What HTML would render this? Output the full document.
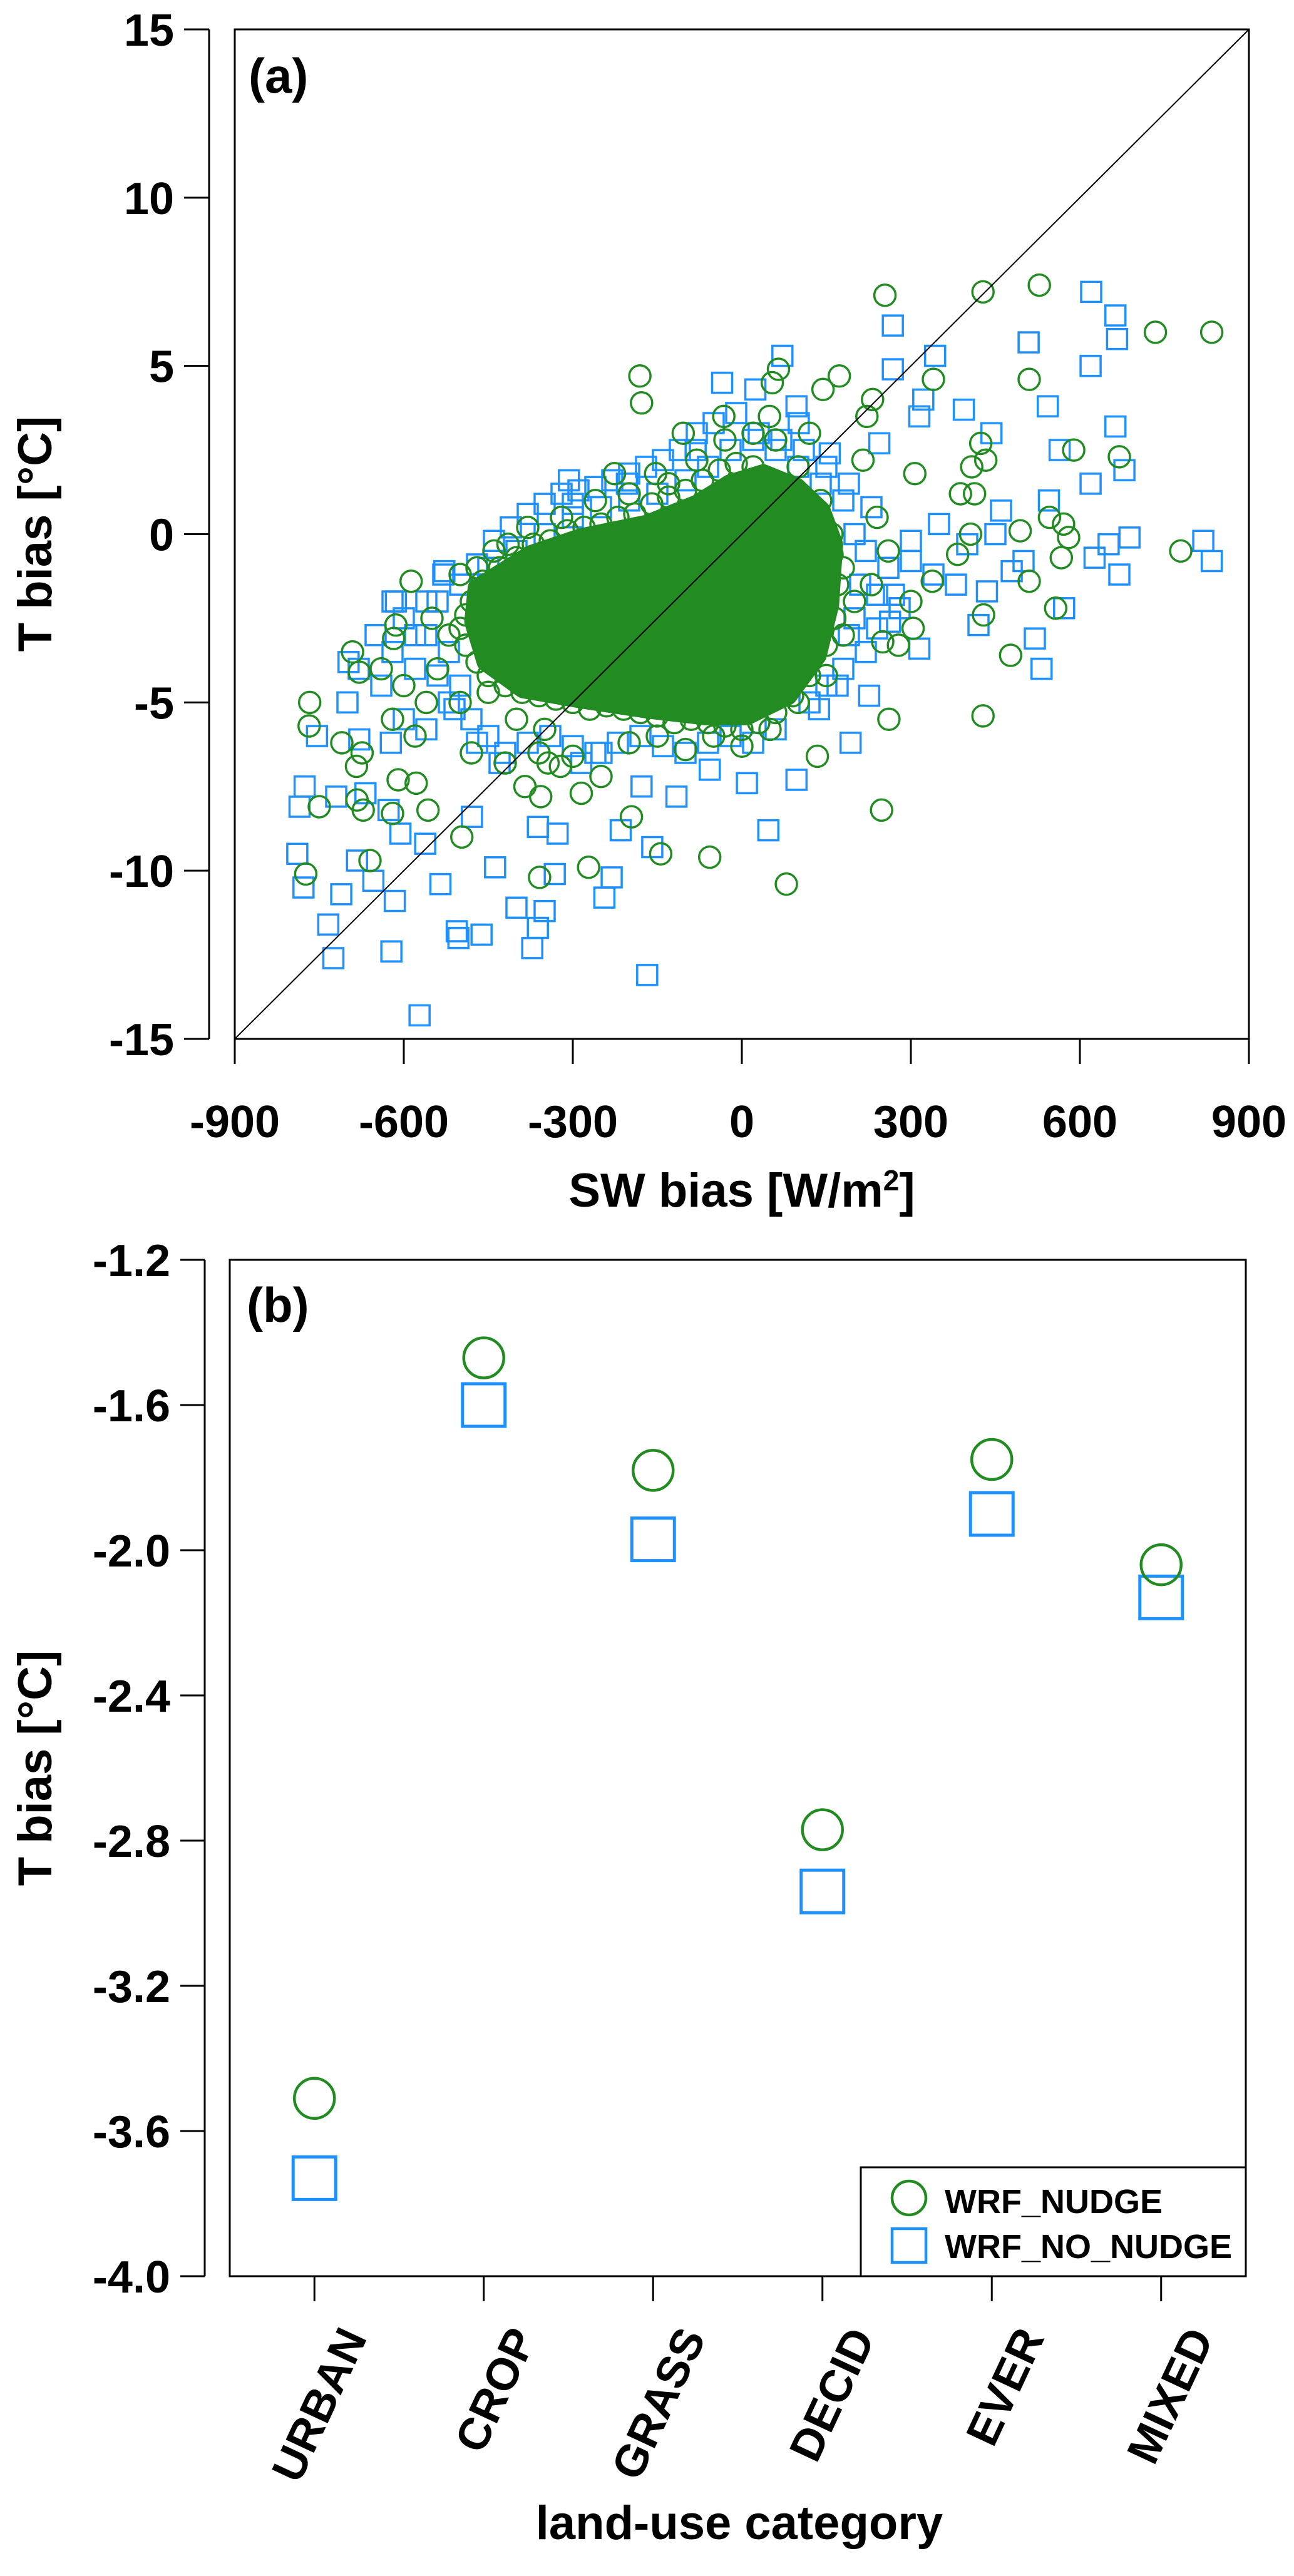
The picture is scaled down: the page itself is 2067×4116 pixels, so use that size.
<!DOCTYPE html>
<html><head><meta charset="utf-8"><style>
html,body{margin:0;padding:0;background:#fff;}
svg{display:block;font-family:"Liberation Sans",Arial,sans-serif;font-weight:bold;}
</style></head><body>
<svg id="fig" width="2067" height="4116" viewBox="0 0 2067 4116">
<g id="pa"></g>
<g id="pb"></g>
</svg>
<script>
// ---------- Panel (a) data ----------
const nudgeSW = [528,428,254,734,834,510,340,173,144,232,222,65,54,49,-32,-181,-178,-104,424,408,433,589,670,307,215,388,413,494,406,546,571,580,567,510,557,779,477,429,304,278,338,383,428,261,248,134,79,-57,-144,-272,-359,-196,-285,-357,-385,-497,-557,-620,-672,-683,-750,-774,-660,-610,-578,-684,-710,-674,-768,-767,-691,-679,-614,-618,-587,-470,-415,-226,-153,-344,-322,
 -550,-520,-540,-500,-560,-600,-640,-620,-580,-480,-420,-360,-300,-250,-200,-150,-100,-50,0,50,100,150,180,200,180,160,140,100,60,20,-30,-80,-130,-200,-260,-320,-380,-440,-500,230,260,300,250,240,120,-400,-450,-350,
 -480,-460,-430,-400,-370,-340,-310,-280,-250,-220,-190,-160,-130,-100,-70,-40,-10,20,50,80,110,140,160,170,165,150,120,90,60,30,0,-30,-60,-90,-120,-150,-180,-210,-240,-270,-300,-330,-360,-390,-420,-450,-470,-490,-500,-490];
const nudgeT = [7.4,7.2,7.1,6.0,6.0,4.6,4.6,4.7,4.3,4.0,3.5,4.9,4.5,3.5,3.5,4.7,3.9,3.0,2.7,2.0,2.2,2.5,2.3,1.8,2.2,1.2,1.2,0.1,0.0,0.5,0.3,-0.1,-0.7,-1.4,-2.2,-0.5,-3.6,-2.4,-2.8,-3.3,-1.4,-0.6,-5.4,-5.5,-8.2,-6.6,-10.4,-9.6,-9.5,-9.9,-10.2,-8.4,-7.7,-7.8,-7.5,-9.0,-8.2,-8.3,-8.2,-7.9,-8.1,-10.1,-9.7,-7.3,-7.4,-6.9,-6.2,-6.5,-5.7,-5.0,-3.5,-4.1,-2.7,-3.1,-1.4,-1.0,-0.3,1.8,1.8,-6.8,-6.9,
 -2.5,-3.0,-4.0,-5.0,-5.0,-4.5,-4.0,-5.5,-6.0,-6.5,-6.8,-6.5,-6.6,-7.2,-6.2,-6.0,-6.4,-6.0,-6.3,-5.8,-5.0,-4.2,-3.0,-2.0,-1.0,0.0,1.0,2.0,2.8,3.0,2.8,2.2,1.5,1.2,1.0,0.5,0.2,-0.5,-1.2,-1.5,-0.5,-2.0,-3.2,0.5,3.0,-5.5,-4.7,-5.8,
 -2.0,-1.4,-1.0,-0.7,-0.3,-0.2,0.1,0.2,0.3,0.5,0.6,0.9,1.1,1.3,1.6,1.9,2.1,2.0,1.6,1.2,0.8,0.2,-0.6,-1.5,-2.5,-3.3,-4.2,-4.8,-5.3,-5.6,-5.8,-5.7,-5.6,-5.5,-5.6,-5.4,-5.3,-5.2,-5.1,-5.2,-5.0,-4.9,-4.8,-4.7,-4.5,-4.2,-3.8,-3.3,-2.8,-2.4];
const noNudgeSW = [620,663,666,268,509,619,268,72,-35,24,343,394,543,663,315,322,443,564,619,679,545,460,688,819,834,670,626,651,572,520,532,479,435,420,315,263,226,193,137,47,-116,-168,-231,-244,-350,-362,-372,-332,-400,-462,-506,-503,-438,-535,-572,-622,-616,-725,-734,-711,-778,-789,-683,-654,-606,-562,-785,-776,-720,-668,-627,-479,-362,-327,-215,-178,-159,-754,-679,-623,-698,-614,-528,-307,-300,-204,-82,97,101,156,244,97,9,-57,-249,-285,
 -600,-560,-540,-520,-500,-580,-620,-640,-600,-560,-520,-480,-450,-420,-380,-340,-300,-260,-220,-180,-140,-100,-60,-20,20,60,-500,-450,-400,-350,-300,-250,-200,-150,-100,-60,-20,20,60,100,140,180,200,220,260,300,340,380,240,280,200,220,180,150,120,300,350,400,450,500,-650,-680,-700,
 -560,-530,-470,-440,-410,-380,-350,-320,-290,-260,-230,-200,-170,-140,-110,-80,-50,-10,30,70,110,150,190,230,210,190,170,240,270,-620,-580,-540,-510,-470,-430];
const noNudgeT = [7.2,6.5,5.8,6.2,5.7,5.0,4.9,5.3,4.5,4.3,5.3,3.7,3.8,3.2,3.5,4.0,3.0,2.5,1.5,1.9,1.0,0.7,-0.1,-0.2,-0.8,-1.2,-0.7,-0.3,-2.2,-3.1,-4.0,-1.1,-1.7,-2.7,-3.4,-2.6,-4.8,-6.2,-5.2,-8.8,-7.8,-13.1,-10.2,-10.8,-11.2,-11.7,-12.3,-10.1,-11.1,-11.9,-11.8,-12.0,-9.9,-10.4,-14.3,-12.4,-10.9,-12.6,-11.6,-10.7,-10.5,-9.5,-9.7,-10.3,-8.9,-9.2,-8.1,-7.5,-7.8,-7.7,-8.2,-8.4,-8.7,-8.9,-8.8,-7.5,-9.3,-6.0,-6.1,-6.2,-3.8,-2.0,-1.1,1.6,0.9,1.5,2.5,3.8,3.3,2.4,2.7,-7.3,-7.4,-7.0,-6.5,-6.8,
 -2.5,-3.0,-2.0,-3.5,-4.5,-4.0,-3.5,-4.5,-5.5,-5.8,-5.0,-5.5,-6.0,-6.5,-6.2,-6.0,-6.3,-6.5,-6.2,-6.0,-6.3,-6.5,-6.2,-6.0,-6.2,-5.8,-1.5,-1.0,-0.5,0.0,0.5,0.8,1.0,1.2,1.6,2.0,2.5,2.8,2.5,2.0,1.5,1.0,0.0,-0.5,-1.0,-0.8,-1.2,-1.5,-1.8,-2.2,-2.5,-3.5,-4.0,-4.5,-5.0,-0.2,0.3,-0.3,0.0,-0.8,-3.0,-4.0,-5.0,
 -2.0,-1.2,-0.9,-0.2,0.2,0.6,0.9,1.2,1.3,1.4,1.6,1.8,2.0,2.2,2.5,3.0,3.3,3.6,3.0,2.8,2.5,2.0,1.5,0.8,-1.5,-3.0,-4.5,-2.8,-1.8,-2.0,-3.0,-4.2,-5.2,-6.2,-6.8];
// dense overlapping core of WRF_NUDGE circles (outline in data units)
const coreSW = [-470,-374,-285,-168,-79,-21,38,97,141,163,156,134,82,9,-65,-168,-285,-388,-454,-476];
const coreT  = [-1.6,-0.6,-0.1,0.3,0.9,1.5,1.8,1.4,0.7,-0.3,-2.1,-3.6,-4.8,-5.4,-5.4,-5.2,-4.9,-4.6,-3.8,-2.6];
const aXTicks = [-900,-600,-300,0,300,600,900];
const aYTicks = [-15,-10,-5,0,5,10,15];

// ---------- Panel (b) data ----------
const categories = ["URBAN","CROP","GRASS","DECID","EVER","MIXED"];
const nudgeCat = [-3.51,-1.47,-1.78,-2.77,-1.75,-2.04];
const noNudgeCat = [-3.73,-1.60,-1.97,-2.94,-1.90,-2.13];
const bYTicks = [-4.0,-3.6,-3.2,-2.8,-2.4,-2.0,-1.6,-1.2];

const NS="http://www.w3.org/2000/svg";
const GREEN="#228B22", BLUE="#1E90FF";
function mk(parent, tag, attrs, text){
  const e=document.createElementNS(NS,tag);
  for(const k in attrs) e.setAttribute(k,attrs[k]);
  if(text!==undefined) e.textContent=text;
  parent.appendChild(e); return e;
}

// ===== Panel A =====
const pa=document.getElementById('pa');
const aL=375,aR=1995,aT=47,aB=1660;
const ax=v=>aL+(v+900)/1800*(aR-aL);
const ay=v=>aB-(v+15)/30*(aB-aT);
const gBlue=mk(pa,'g',{fill:'none',stroke:BLUE,'stroke-width':3.5});


noNudgeSW.forEach((s,i)=>{
  const r=mk(gBlue,'rect',{x:ax(s)-16,y:ay(noNudgeT[i])-16,width:32,height:32});
  
  
});
let d=coreSW.map((s,i)=>(i?'L':'M')+ax(s).toFixed(1)+' '+ay(coreT[i]).toFixed(1)).join(' ')+' Z';
let core=mk(pa,'path',{d:d,fill:GREEN,stroke:GREEN,'stroke-width':30,'stroke-linejoin':'round'});


const gGreen=mk(pa,'g',{fill:'none',stroke:GREEN,'stroke-width':3.5});


nudgeSW.forEach((s,i)=>{
  const c=mk(gGreen,'circle',{cx:ax(s),cy:ay(nudgeT[i]),r:17});
  
  
});
let diag=mk(pa,'line',{x1:ax(-900),y1:ay(-15),x2:ax(900),y2:ay(15),stroke:'#000','stroke-width':2});


let boxA=mk(pa,'rect',{x:aL,y:aT,width:aR-aL,height:aB-aT,fill:'none',stroke:'#000','stroke-width':3});


let yaxA=mk(pa,'line',{x1:334,y1:ay(-15),x2:334,y2:ay(15),stroke:'#000','stroke-width':3});


aYTicks.forEach(v=>{
  mk(pa,'line',{x1:294,y1:ay(v),x2:334,y2:ay(v),stroke:'#000','stroke-width':3});
  const t=mk(pa,'text',{x:278,y:ay(v)+26,'text-anchor':'end','font-size':72},String(v));
  
  
});
aXTicks.forEach(v=>{
  mk(pa,'line',{x1:ax(v),y1:aB,x2:ax(v),y2:aB+40,stroke:'#000','stroke-width':3});
  const t=mk(pa,'text',{x:ax(v),y:1817,'text-anchor':'middle','font-size':72},String(v));
  
  
});
</script>
<script>
(function(){
const pa=document.getElementById('pa');
pa.insertAdjacentHTML('beforeend',
 '<text x="397" y="148" font-size="78">(a)</text>'+
 '<text x="1185" y="1928" text-anchor="middle" font-size="76">SW bias [W/m<tspan dy="-26" font-size="46">2</tspan><tspan dy="26">]</tspan></text>'+
 '<text transform="translate(82,853) rotate(-90)" text-anchor="middle" font-size="76">T bias [°C]</text>');
})();
</script>
<script>
// ===== Panel B =====
(function(){
const pb=document.getElementById('pb');
const bL=367,bR=1990,bT=2013,bB=3637;
const bx=i=>bL+(i+0.5)/6*(bR-bL);
const by=v=>bB-(v+4.0)/2.8*(bB-bT);
const gS=mk(pb,'g',{fill:'none',stroke:BLUE,'stroke-width':5});


noNudgeCat.forEach((v,i)=>{
  const r=mk(gS,'rect',{x:bx(i)-34,y:by(v)-34,width:68,height:68});
  
  
});
const gC=mk(pb,'g',{fill:'none',stroke:GREEN,'stroke-width':4.5});


nudgeCat.forEach((v,i)=>{
  const c=mk(gC,'circle',{cx:bx(i),cy:by(v),r:32});
  
  
});
let box=mk(pb,'rect',{x:bL,y:bT,width:bR-bL,height:bB-bT,fill:'none',stroke:'#000','stroke-width':3});


let yax=mk(pb,'line',{x1:327,y1:by(-4.0),x2:327,y2:by(-1.2),stroke:'#000','stroke-width':3});


bYTicks.forEach(v=>{
  mk(pb,'line',{x1:288,y1:by(v),x2:327,y2:by(v),stroke:'#000','stroke-width':3});
  const t=mk(pb,'text',{x:272,y:by(v)+26,'text-anchor':'end','font-size':72},v.toFixed(1));
  
  
});
categories.forEach((c,i)=>{
  mk(pb,'line',{x1:bx(i),y1:bB,x2:bx(i),y2:bB+40,stroke:'#000','stroke-width':3});
  const t=mk(pb,'text',{transform:'translate('+(bx(i)+85)+',3735) rotate(-65)','text-anchor':'end','font-size':72},c);
  
  
});
pb.insertAdjacentHTML('beforeend',
 '<text x="394" y="2112" font-size="78">(b)</text>'+
 '<text x="1181" y="4057" text-anchor="middle" font-size="76">land-use category</text>'+
 '<text transform="translate(82,2825) rotate(-90)" text-anchor="middle" font-size="76">T bias [°C]</text>'+
 '<g>'+
 '<rect x="1375" y="3463" width="615" height="174" fill="#fff" stroke="#000" stroke-width="3"/>'+
 '<circle cx="1452" cy="3512" r="27" fill="none" stroke="'+GREEN+'" stroke-width="4.5"/>'+
 '<text x="1509" y="3536" font-size="54">WRF_NUDGE</text>'+
 '<rect x="1425" y="3561" width="54" height="54" fill="none" stroke="'+BLUE+'" stroke-width="4.5"/>'+
 '<text x="1509" y="3608" font-size="54">WRF_NO_NUDGE</text>'+
 '</g>');
})();
</script>
</body></html>
